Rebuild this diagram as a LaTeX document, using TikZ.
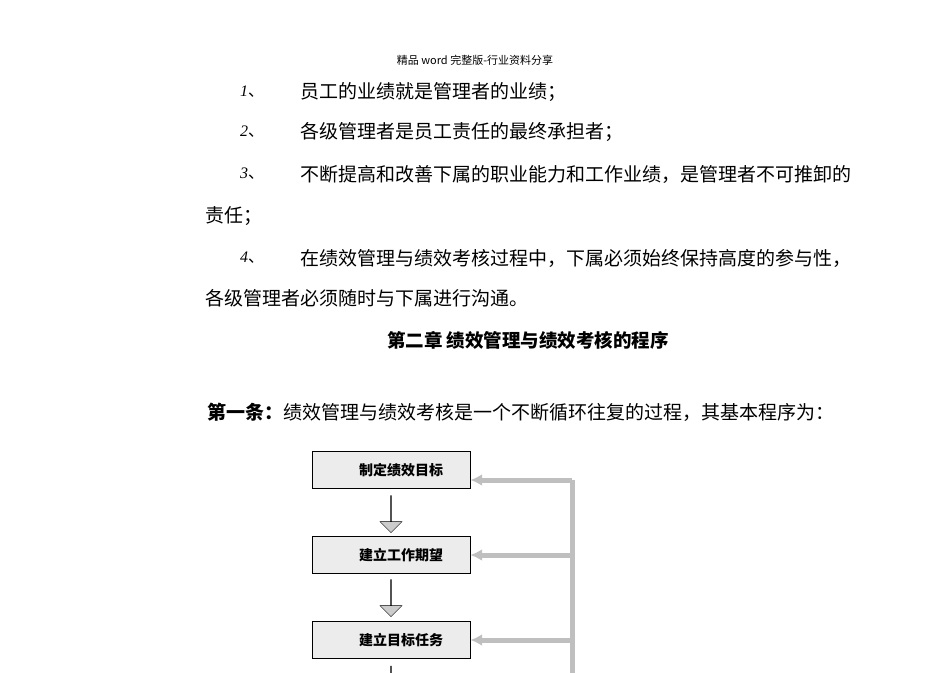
\documentclass[tikz,border=0pt]{standalone}
\usepackage{fontspec}
\usetikzlibrary{shapes.arrows,arrows.meta}
\setmainfont{Noto Sans CJK SC}
\newfontfamily\numf{Liberation Serif}
\begin{document}
\begin{tikzpicture}[x=1pt,y=-1pt,
  txt/.style={anchor=west,inner sep=0pt,font=\fontsize{19}{21}\selectfont},
  num/.style={anchor=west,inner sep=0pt,font=\fontsize{16}{18}\selectfont},
  box/.style={draw=black,fill=gray!15,minimum width=158pt,minimum height=37pt,inner sep=0pt,font=\fontsize{14}{16}\selectfont\bfseries},
  fb/.style={draw=gray!50,line width=5pt},
  fbarrow/.style={draw=gray!50,line width=5pt,-{Latex[length=12pt,width=12pt]}},
  down/.style={draw=black,fill=gray!40,single arrow,single arrow head extend=6pt,shape border rotate=270,minimum height=37pt,minimum width=22pt,inner sep=0pt}]
\useasboundingbox (0,0) rectangle (950,672);
\node[inner sep=0pt,font=\fontsize{11}{12}\selectfont] (hdr) at (475,60) {精品 word 完整版-行业资料分享};
\node[num] (n1) at (240,92) {{\numf\itshape 1}、};
\node[txt] (t1) at (300,92) {员工的业绩就是管理者的业绩；};
\node[num] (n2) at (240,132) {{\numf\itshape 2}、};
\node[txt] (t2) at (300,132) {各级管理者是员工责任的最终承担者；};
\node[num] (n3) at (240,174) {{\numf\itshape 3}、};
\node[txt] (t3) at (300,174) {不断提高和改善下属的职业能力和工作业绩，是管理者不可推卸的};
\node[txt] (t3b) at (205,216) {责任；};
\node[num] (n4) at (240,258) {{\numf\itshape 4}、};
\node[txt] (t4) at (300,258) {在绩效管理与绩效考核过程中，下属必须始终保持高度的参与性，};
\node[txt] (t4b) at (205,298) {各级管理者必须随时与下属进行沟通。};
\node[inner sep=0pt,font=\fontsize{18.5}{20}\selectfont\bfseries] (ttl) at (528,340) {第二章 绩效管理与绩效考核的程序};
\node[txt] (p1) at (207,412) {\textbf{第一条：}绩效管理与绩效考核是一个不断循环往复的过程，其基本程序为：};
\node[box] (b1) at (391,470) {\hspace*{20pt}\raisebox{-5pt}{制定绩效目标}};
\node[box] (b2) at (391,555) {\hspace*{20pt}\raisebox{-5pt}{建立工作期望}};
\node[box] (b3) at (391,640) {\hspace*{20pt}\raisebox{-5pt}{建立目标任务}};
\node[down] (d1) at (391,514) {};
\node[down] (d2) at (391,598) {};
\node[down,minimum height=24pt] (d3) at (391,678) {};
\coordinate (v1) at (572,480);
\coordinate (vb) at (572,680);
\draw[fb] (v1) -- (vb);
\draw[fbarrow] (v1) -- (b1.east |- v1);
\draw[fbarrow] (572,555) -- (b2.east |- 0,555);
\draw[fbarrow] (572,640) -- (b3.east |- 0,640);
\end{tikzpicture}
\end{document}
